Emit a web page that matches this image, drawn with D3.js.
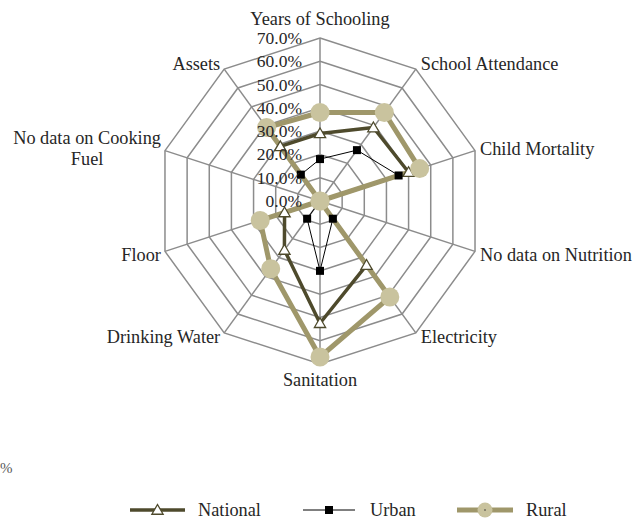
<!DOCTYPE html>
<html>
<head>
<meta charset="utf-8">
<script src="https://cdn.jsdelivr.net/npm/d3@7"></script>
<style>
  html, body { margin: 0; padding: 0; background: #fff; }
  svg { display: block; }
  text { font-family: "Liberation Serif", "Times New Roman", serif; }
</style>
</head>
<body>
<svg id="chart" width="638" height="520"></svg>
<script>
// ---- data ----
const categories = ["Years of Schooling", "School Attendance", "Child Mortality", "No data on Nutrition",
  "Electricity", "Sanitation", "Drinking Water", "Floor", "No data on Cooking Fuel", "Assets"];
const national = [0.29, 0.39, 0.40, 0, 0.34, 0.525, 0.26, 0.16, 0, 0.29];
const urban    = [0.18, 0.27, 0.355, 0, 0.094, 0.30, 0.094, 0, 0, 0.14];
const rural    = [0.38, 0.47, 0.45, 0, 0.51, 0.67, 0.36, 0.27, 0, 0.39];
const tickValues = [0, 0.1, 0.2, 0.3, 0.4, 0.5, 0.6, 0.7];
const seriesNames = ["National", "Urban", "Rural"];

// ---- layout ----
const W = 638, H = 520;
const cx = 320, cy = 201, R = 163;
const fontSize = 18.3, tickFont = 17.5;
const colNational = "#4E4A2C", colRural = "#9F976A", colRuralFill = "#C9C39E", colGrid = "#8C8C8C";

const svg = d3.select("#chart");
const r = d3.scaleLinear().domain([0, 0.7]).range([0, R]);
const n = categories.length;
const angle = d3.scaleLinear().domain([0, n]).range([0, 2 * Math.PI]);
const px = (i, v) => cx + r(v) * Math.sin(angle(i));
const py = (i, v) => cy - r(v) * Math.cos(angle(i));

const g = svg.append("g");

// grid rings
const ring = d3.lineRadial().angle((d, i) => angle(i)).radius(d => r(d)).curve(d3.curveLinearClosed);
g.append("g").attr("transform", `translate(${cx},${cy})`)
  .selectAll("path").data(tickValues.filter(t => t > 0)).join("path")
  .attr("d", t => ring(categories.map(() => t)))
  .attr("fill", "none").attr("stroke", colGrid).attr("stroke-width", 1.5);

// spokes
g.append("g").selectAll("line").data(categories).join("line")
  .attr("x1", cx).attr("y1", cy)
  .attr("x2", (d, i) => px(i, 0.7)).attr("y2", (d, i) => py(i, 0.7))
  .attr("stroke", colGrid).attr("stroke-width", 1.5);

// series lines
const line = d3.lineRadial().angle((d, i) => angle(i)).radius(d => r(d)).curve(d3.curveLinearClosed);
const plot = g.append("g").attr("transform", `translate(${cx},${cy})`);
plot.append("path").attr("d", line(national)).attr("fill", "none")
  .attr("stroke", colNational).attr("stroke-width", 3.5).attr("stroke-linejoin", "round");
plot.append("path").attr("d", line(urban)).attr("fill", "none")
  .attr("stroke", "#000").attr("stroke-width", 1);
plot.append("path").attr("d", line(rural)).attr("fill", "none")
  .attr("stroke", colRural).attr("stroke-width", 5).attr("stroke-linejoin", "round");

// markers
const tri = d3.symbol().type(d3.symbolTriangle).size(55);
function triangle(sel) {
  sel.attr("d", tri).attr("fill", "#fff").attr("stroke", colNational).attr("stroke-width", 1.3);
}
g.append("g").selectAll("path").data(national).join("path")
  .attr("transform", (d, i) => `translate(${px(i, d)},${py(i, d) + 1})`)
  .call(triangle);
g.append("g").selectAll("rect").data(urban).join("rect")
  .attr("x", (d, i) => px(i, d) - 4).attr("y", (d, i) => py(i, d) - 4)
  .attr("width", 8).attr("height", 8).attr("fill", "#000");
g.append("g").selectAll("circle").data(rural).join("circle")
  .attr("cx", (d, i) => px(i, d)).attr("cy", (d, i) => py(i, d))
  .attr("r", 9.5).attr("fill", colRuralFill);

// tick labels
g.append("g").selectAll("text").data(tickValues).join("text")
  .attr("x", cx - 18).attr("y", t => cy - r(t))
  .attr("text-anchor", "end").attr("dominant-baseline", "central")
  .attr("font-size", tickFont).attr("fill", "#262626")
  .text(d3.format(".1%"));

// category labels
const labG = g.append("g");
categories.forEach((c, i) => {
  const a = angle(i);
  const s = Math.sin(a), co = Math.cos(a);
  const vx = px(i, 0.7), vy = py(i, 0.7);
  let anchor = Math.abs(s) < 0.1 ? "middle" : (s > 0 ? "start" : "end");
  let x = vx + (anchor === "middle" ? 0 : (s > 0 ? 5 : -4));
  let y;
  if (Math.abs(s) < 0.1) y = vy + (co > 0 ? -19 : 16);
  else y = vy + (co > 0.7 ? -5 : co > 0.2 ? -2 : co > -0.2 ? 1 : 4);
  const t = labG.append("text").attr("x", x).attr("y", y)
    .attr("text-anchor", anchor).attr("dominant-baseline", "central")
    .attr("font-size", fontSize).attr("fill", "#262626").text(c);
  if (anchor === "end") {
    const avail = x - 5;
    const w = t.node().getComputedTextLength();
    if (w > avail) {
      const words = c.split(" ");
      const lines = [];
      let cur = "";
      t.text("");
      words.forEach(wd => {
        const test = cur ? cur + " " + wd : wd;
        t.text(test);
        if (t.node().getComputedTextLength() > avail && cur) { lines.push(cur); cur = wd; }
        else cur = test;
      });
      lines.push(cur);
      t.text(lines[0]);
      const maxW = t.node().getComputedTextLength();
      t.text("");
      const lh = 21;
      const mid = x - maxW / 2;
      t.attr("text-anchor", "middle");
      lines.forEach((ln, k) => {
        t.append("tspan").attr("x", mid)
          .attr("y", y + (k - (lines.length - 1) / 2) * lh).text(ln);
      });
    }
  }
});

// stray axis unit text at left
svg.append("text").attr("x", 0).attr("y", 468).attr("dominant-baseline", "central")
  .attr("font-size", 15).attr("fill", "#595959").text("%");

// legend
const legY = 510;
const leg = svg.append("g");
const legItems = [
  { name: seriesNames[0], x1: 130, x2: 185, tx: 198 },
  { name: seriesNames[1], x1: 303, x2: 355, tx: 370 },
  { name: seriesNames[2], x1: 457, x2: 513, tx: 526 }
];
// National
leg.append("line").attr("x1", legItems[0].x1).attr("x2", legItems[0].x2).attr("y1", legY).attr("y2", legY)
  .attr("stroke", colNational).attr("stroke-width", 3.5);
leg.append("path").attr("transform", `translate(${(legItems[0].x1 + legItems[0].x2) / 2},${legY + 1})`).call(triangle);
// Urban
leg.append("line").attr("x1", legItems[1].x1).attr("x2", legItems[1].x2).attr("y1", legY).attr("y2", legY)
  .attr("stroke", "#000").attr("stroke-width", 1);
leg.append("rect").attr("x", (legItems[1].x1 + legItems[1].x2) / 2 - 4).attr("y", legY - 4)
  .attr("width", 8).attr("height", 8).attr("fill", "#000");
// Rural
leg.append("line").attr("x1", legItems[2].x1).attr("x2", legItems[2].x2).attr("y1", legY).attr("y2", legY)
  .attr("stroke", colRural).attr("stroke-width", 5);
leg.append("circle").attr("cx", (legItems[2].x1 + legItems[2].x2) / 2).attr("cy", legY)
  .attr("r", 7.5).attr("fill", colRuralFill);
leg.append("circle").attr("cx", (legItems[2].x1 + legItems[2].x2) / 2).attr("cy", legY)
  .attr("r", 0.8).attr("fill", "#333");
leg.selectAll("text.lab").data(legItems).join("text").attr("class", "lab")
  .attr("x", d => d.tx).attr("y", legY).attr("dominant-baseline", "central")
  .attr("font-size", fontSize).attr("fill", "#262626").text(d => d.name);
</script>
</body>
</html>
